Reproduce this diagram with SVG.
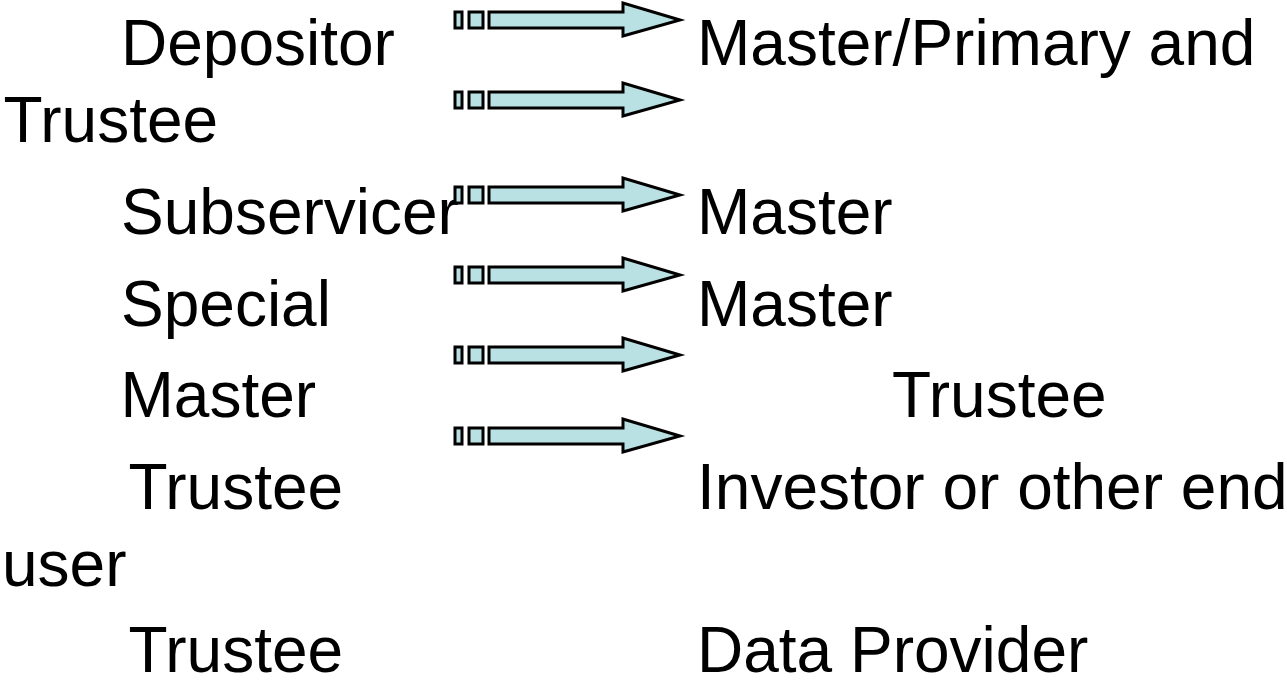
<svg xmlns="http://www.w3.org/2000/svg" width="1287" height="681" viewBox="0 0 1287 681">
  <style>
    .lbl { font-family: "Liberation Sans", Arial, sans-serif; font-size: 64px; fill: #000; }
    .arw { fill: #b9e0e2; stroke: #000; stroke-width: 3; stroke-linejoin: miter; }
  </style>
  <defs>
    <!-- striped block arrow, centred on y=0 -->
    <g id="blockArrow">
      <rect class="arw" x="455" y="-8" width="7" height="16"/>
      <rect class="arw" x="469" y="-8" width="14" height="16"/>
      <path class="arw" d="M489,-8 H623 V-17 L680,0 L623,16 V8 H489 Z"/>
    </g>
  </defs>
  <rect width="1287" height="681" fill="#fff"/>

  <!-- left column -->
  <g id="left-depositor"><text class="lbl" x="121" y="65">Depositor</text><text class="lbl" x="3.5" y="142">Trustee</text></g>
  <g id="left-subservicer"><text class="lbl" x="121" y="234">Subservicer</text></g>
  <g id="left-special"><text class="lbl" x="121" y="326">Special</text></g>
  <g id="left-master"><text class="lbl" x="120.5" y="417">Master</text></g>
  <g id="left-trustee-1"><text class="lbl" x="128.5" y="509">Trustee</text><text class="lbl" x="2" y="586">user</text></g>
  <g id="left-trustee-2"><text class="lbl" x="128.5" y="672">Trustee</text></g>

  <!-- right column -->
  <g id="right-master-primary"><text class="lbl" x="697" y="65">Master/Primary and</text></g>
  <g id="right-master-1"><text class="lbl" x="697" y="234">Master</text></g>
  <g id="right-master-2"><text class="lbl" x="697" y="326">Master</text></g>
  <g id="right-trustee"><text class="lbl" x="892" y="417">Trustee</text></g>
  <g id="right-investor"><text class="lbl" x="697" y="509">Investor or other end</text></g>
  <g id="right-data-provider"><text class="lbl" x="697" y="672">Data Provider</text></g>

  <!-- connectors -->
  <g id="connectors">
    <use href="#blockArrow" y="20"/>
    <use href="#blockArrow" y="100"/>
    <use href="#blockArrow" y="195"/>
    <use href="#blockArrow" y="275"/>
    <use href="#blockArrow" y="355"/>
    <use href="#blockArrow" y="436"/>
  </g>
</svg>
